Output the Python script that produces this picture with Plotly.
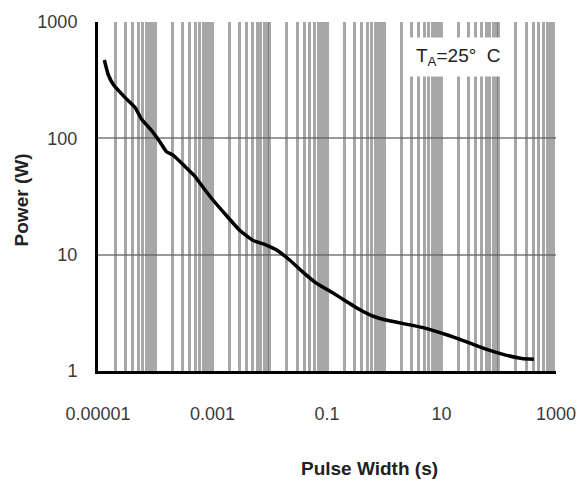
import plotly.graph_objects as go

# Single-pulse power rating vs pulse width (T_A = 25 °C)
pulse_width_s = [1.29e-5, 1.51e-5, 1.85e-5, 2.95e-5, 4.41e-5, 5.77e-5, 8.6e-5, 1.2e-4,
                 1.57e-4, 2.05e-4, 3.28e-4, 4.9e-4, 7.3e-4, 1.0e-3, 1.75e-3, 2.98e-3,
                 5.0e-3, 8.7e-3, 1.3e-2, 2.2e-2, 3.7e-2, 6.5e-2, 0.124, 0.215, 0.321,
                 0.618, 1.22, 2.39, 4.59, 9.08, 17.7, 34.1, 67.5, 132, 254, 410]
power_w = [471, 352, 290, 225, 185, 146, 117, 93.5,
           76.6, 71.7, 57.5, 47.3, 36.3, 29.8, 21.7, 16.2,
           13.3, 12.1, 11.0, 9.04, 7.15, 5.69, 4.72, 3.98, 3.52,
           2.98, 2.70, 2.53, 2.37, 2.15, 1.93, 1.71, 1.51, 1.37, 1.28, 1.26]

x_decades = [1e-5, 1e-4, 1e-3, 1e-2, 1e-1, 1, 10, 100, 1000]
x_labelled = {1e-5: "0.00001", 1e-3: "0.001", 1e-1: "0.1", 10: "10", 1000: "1000"}
y_ticks = [1, 10, 100, 1000]
y_labels = ["1", "10", "100", "1000"]

# labelled decades on the main axis
x_label_vals = list(x_labelled.keys())
x_label_text = list(x_labelled.values())
# grid at every 1..9 multiple of each decade
x_grid_vals = [d * m for d in x_decades for m in (range(1, 10) if d < 1000 else [1])]

FONT = "Liberation Sans, Arial, sans-serif"
GRID = "rgba(95,95,95,0.55)"

fig = go.Figure()
fig.add_trace(go.Scatter(
    x=pulse_width_s, y=power_w, mode="lines",
    line=dict(color="black", width=3.5, shape="spline", smoothing=0.4),
    showlegend=False, hoverinfo="skip",
))
# invisible trace carrying the secondary x axis used for the dense grid
fig.add_trace(go.Scatter(
    x=[x_decades[0], x_decades[-1]], y=[1, 1], xaxis="x2", mode="lines",
    line=dict(width=0), showlegend=False, hoverinfo="skip",
))

fig.update_layout(
    xaxis=dict(
        type="log", range=[-5, 3],
        tickmode="array", tickvals=x_label_vals, ticktext=x_label_text,
        showgrid=False,
        showline=True, linecolor="black", linewidth=3,
        ticks="outside", ticklen=24, tickcolor="rgba(0,0,0,0)",
        tickfont=dict(family=FONT, size=18, color="#3a3a3a"),
        zeroline=False,
    ),
    xaxis2=dict(
        type="log", range=[-5, 3], overlaying="x", side="bottom",
        tickmode="array", tickvals=x_grid_vals, showticklabels=False,
        showgrid=True, gridcolor=GRID, gridwidth=2.6,
        showline=False, ticks="", zeroline=False, layer="below traces",
    ),
    yaxis=dict(
        type="log", range=[0, 3],
        tickmode="array", tickvals=y_ticks, ticktext=y_labels,
        showgrid=True, gridcolor="#9a9a9a", gridwidth=2,
        showline=True, linecolor="black", linewidth=3,
        ticks="outside", ticklen=14, tickcolor="rgba(0,0,0,0)",
        tickfont=dict(family=FONT, size=18, color="#3a3a3a"),
        zeroline=False,
    ),
)

fig.add_annotation(
    text="Pulse Width (s)", xref="paper", yref="paper",
    x=0.593, y=-0.28, xanchor="center", yanchor="middle", showarrow=False,
    font=dict(family=FONT, size=19, color="#222222", weight="bold"),
)
fig.add_annotation(
    text="Power (W)", xref="paper", yref="paper", textangle=-90,
    x=-0.165, y=0.49, xanchor="center", yanchor="middle", showarrow=False,
    font=dict(family=FONT, size=19, color="#222222", weight="bold"),
)
fig.add_annotation(
    text="T<sub>A</sub>=25°  C", xref="paper", yref="paper",
    x=0.7876, y=0.900, xanchor="center", yanchor="middle", showarrow=False,
    bgcolor="white", borderpad=7,
    font=dict(family=FONT, size=19, color="#222222"),
)

fig.update_layout(
    width=588, height=482,
    margin=dict(l=98, r=31, t=17, b=111),
    paper_bgcolor="white", plot_bgcolor="white",
)

fig.write_html("out.html")
